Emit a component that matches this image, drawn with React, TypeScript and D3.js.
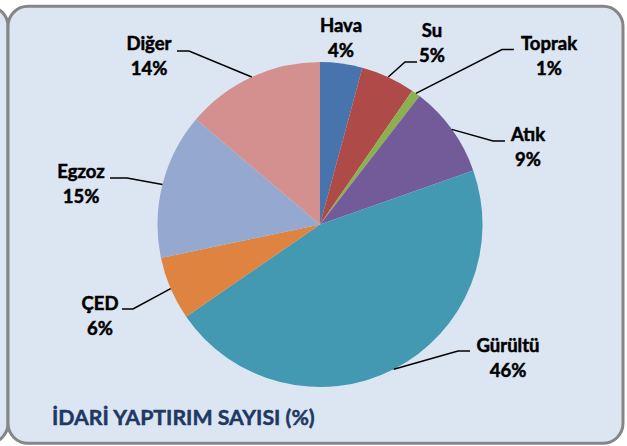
import React from "react";
import * as d3 from "d3";

const categories = ["Hava", "Su", "Toprak", "Atık", "Gürültü", "ÇED", "Egzoz", "Diğer"];
const shares = [4.2, 5.4, 0.9, 9.1, 45.8, 6.3, 14.5, 13.8];
const percentLabels = ["4%", "5%", "1%", "9%", "46%", "6%", "15%", "14%"];
const colors = ["#4874AE", "#AE4A48", "#8DB04E", "#735A98", "#4499B2", "#DE8340", "#94A8D0", "#D3908F"];
const title = "İDARİ YAPTIRIM SAYISI (%)";

// label layout: centre x, first baseline y, elbow x/y, leader end x (null = no leader)
const labelLayout = [
  { cx: 341, y: 32, ex: null, ey: null, tx: null },
  { cx: 432, y: 37, ex: 405, ey: 62, tx: 417 },
  { cx: 549, y: 50, ex: 502, ey: 49.5, tx: 514 },
  { cx: 528, y: 141, ex: 493, ey: 141, tx: 505 },
  { cx: 508, y: 352, ex: 458, ey: 351, tx: 470 },
  { cx: 100, y: 310, ex: 133, ey: 309, tx: 122 },
  { cx: 81, y: 178, ex: 127, ey: 178, tx: 110 },
  { cx: 149, y: 50, ex: 189, ey: 51, tx: 177 },
];

const W = 627;
const H = 446;
const CX = 320;
const CY = 224.5;
const R = 162.5;

export default function App() {
  const data = categories.map((c, i) => ({ name: c, value: shares[i], i }));
  const pie = d3.pie<any>().value((d) => d.value).sort(null).startAngle(0).endAngle(2 * Math.PI);
  const arcs = pie(data);
  const arc = d3.arc<any>().innerRadius(0).outerRadius(R);
  const font = "Lato, 'Open Sans', sans-serif";

  return (
    <svg width={W} height={H} style={{ position: "absolute", left: 0, top: 0 }}>
      <rect x={-607} y={6.3} width={615} height={437} rx={20} fill="#DCE6F2" stroke="#868686" strokeWidth={3} />
      <rect x={8} y={6.3} width={615} height={437} rx={20} fill="#DCE6F2" stroke="#868686" strokeWidth={3} />
      <g transform={`translate(${CX},${CY})`}>
        {arcs.map((a, i) => (
          <path key={i} d={arc(a) || ""} fill={colors[i]} />
        ))}
      </g>
      {arcs.map((a, i) => {
        const L = labelLayout[i];
        if (L.ex === null) return null;
        const mid = (a.startAngle + a.endAngle) / 2;
        const sx = CX + R * Math.sin(mid);
        const sy = CY - R * Math.cos(mid);
        return (
          <path
            key={"l" + i}
            d={`M${sx},${sy}L${L.ex},${L.ey}L${L.tx},${L.ey}`}
            fill="none"
            stroke="#000"
            strokeWidth={1.5}
          />
        );
      })}
      {labelLayout.map((L, i) => (
        <text key={"t" + i} x={L.cx} y={L.y} textAnchor="middle" fontFamily={font} fontWeight="bold" fontSize={18.5} fill="#000" stroke="#000" strokeWidth={0.5}>
          <tspan x={L.cx}>{categories[i]}</tspan>
          <tspan x={L.cx} dy={25}>{percentLabels[i]}</tspan>
        </text>
      ))}
      <text x={52} y={425} fontFamily={font} fontWeight="bold" fontSize={21.3} fill="#1F3864" stroke="#1F3864" strokeWidth={0.5}>
        {title}
      </text>
    </svg>
  );
}
